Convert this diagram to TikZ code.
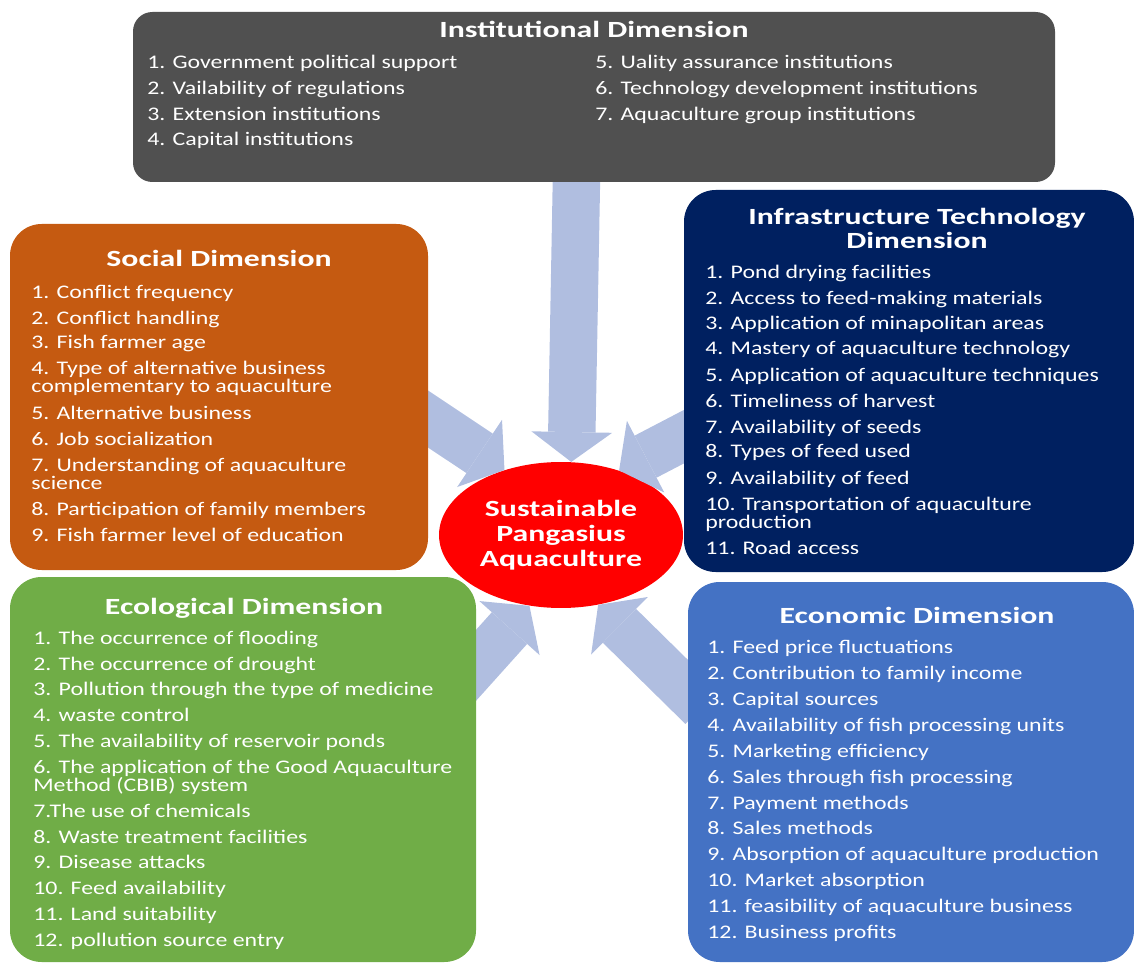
\documentclass[tikz,border=0pt]{standalone}
\usepackage{fontspec}
\setmainfont{Carlito}[FakeStretch=1.24, BoldFeatures={FakeStretch=1.37}]
\usepackage{tikz}
\usetikzlibrary{shapes.geometric,arrows.meta,fit,positioning}
\definecolor{instgray}{HTML}{505050}
\definecolor{socorange}{HTML}{C55A11}
\definecolor{infranavy}{HTML}{002060}
\definecolor{ecogreen}{HTML}{70AD47}
\definecolor{econblue}{HTML}{4472C4}
\definecolor{flowblue}{HTML}{B0BEE0}
\definecolor{hubred}{HTML}{FF0000}

\begin{document}
\begin{tikzpicture}[x=0.02cm, y=-0.02cm,
   box/.style={rounded corners=18pt, inner sep=0pt},
   flow/.style={draw=flowblue, line width=27pt, -{Triangle[width=46pt,length=17pt,line width=0pt]}},
   title/.style={text=white, anchor=base, inner sep=0pt, font=\fontsize{13.2pt}{16pt}\selectfont\bfseries},
   item/.style={text=white, anchor=base west, inner sep=0pt, font=\fontsize{10.95pt}{12pt}\selectfont}]
   \useasboundingbox (0,0) rectangle (1134,963);

   % centre
   \node[ellipse, fill=hubred, minimum width=4.88cm, minimum height=2.92cm, inner sep=0pt,
         align=center, text=white, font=\fontsize{13.2pt}{14.2pt}\selectfont\bfseries]
         (hub) at (561,535) {Sustainable\\Pangasius\\Aquaculture};

   % arrows
   \coordinate (fromInst) at (577,150);
   \coordinate (fromSoc) at (410,407);
   \coordinate (fromInfra) at (714,421);
   \coordinate (fromEco) at (453,691);
   \coordinate (fromEcon) at (702,707);
   \draw[flow] (fromInst) -- (hub.82);
   \draw[flow] (fromSoc) -- (hub.131);
   \draw[flow] (fromInfra) -- (hub.48);
   \draw[flow] (fromEco) -- (hub.246);
   \draw[flow] (fromEcon) -- (hub.298);

   % boxes
   \node[box, rounded corners=11pt, fill=instgray, fit={(133,12) (1055,182)}] (inst) {};
   \node[box, fill=socorange, fit={(10,224) (428,570)}] (soc) {};
   \node[box, fill=infranavy, fit={(684,190) (1134,572)}] (infra) {};
   \node[box, fill=ecogreen, fit={(10,577) (476,962)}] (eco) {};
   \node[box, fill=econblue, fit={(688,582) (1134,962)}] (econ) {};

   % institutional
   \node[title] (instT) at (594,38) {Institutional Dimension};
   \begin{scope}[every node/.style={item}]
    \node (inst1) at (147,69) {1. Government political support};
    \node (inst2) at (147,95) {2. Vailability of regulations};
    \node (inst3) at (147,121) {3. Extension institutions};
    \node (inst4) at (147,146) {4. Capital institutions};
    \node (inst5) at (595,69) {5. Uality assurance institutions};
    \node (inst6) at (595,95) {6. Technology development institutions};
    \node (inst7) at (595,121) {7. Aquaculture group institutions};
   \end{scope}

   % social
   \node[title] (socT) at (219,267) {Social Dimension};
   \begin{scope}[every node/.style={item}]
    \node (soc1) at (31,298) {1. Conflict frequency};
    \node (soc2) at (31,324) {2. Conflict handling};
    \node (soc3) at (31,349) {3. Fish farmer age};
    \node (soc4) at (31,375) {4. Type of alternative business};
    \node (soc4b) at (31,393) {complementary to aquaculture};
    \node (soc5) at (31,419) {5. Alternative business};
    \node (soc6) at (31,445) {6. Job socialization};
    \node (soc7) at (31,471) {7. Understanding of aquaculture};
    \node (soc7b) at (31,489) {science};
    \node (soc8) at (31,515) {8. Participation of family members};
    \node (soc9) at (31,541) {9. Fish farmer level of education};
   \end{scope}

   % infrastructure technology
   \node[title] (infraT) at (917,225) {Infrastructure Technology};
   \node[title] (infraT2) at (917,249) {Dimension};
   \begin{scope}[every node/.style={item}]
    \node (infra1) at (705,278) {1. Pond drying facilities};
    \node (infra2) at (705,304) {2. Access to feed-making materials};
    \node (infra3) at (705,330) {3. Application of minapolitan areas};
    \node (infra4) at (705,355) {4. Mastery of aquaculture technology};
    \node (infra5) at (705,381) {5. Application of aquaculture techniques};
    \node (infra6) at (705,407) {6. Timeliness of harvest};
    \node (infra7) at (705,433) {7. Availability of seeds};
    \node (infra8) at (705,458) {8. Types of feed used};
    \node (infra9) at (705,484) {9. Availability of feed};
    \node (infra10) at (705,510) {10. Transportation of aquaculture};
    \node (infra10b) at (705,528) {production};
    \node (infra11) at (705,554) {11. Road access};
   \end{scope}

   % ecological
   \node[title] (ecoT) at (244,614) {Ecological Dimension};
   \begin{scope}[every node/.style={item}]
    \node (eco1) at (33,644) {1. The occurrence of flooding};
    \node (eco2) at (33,670) {2. The occurrence of drought};
    \node (eco3) at (33,695) {3. Pollution through the type of medicine};
    \node (eco4) at (33,721) {4. waste control};
    \node (eco5) at (33,747) {5. The availability of reservoir ponds};
    \node (eco6) at (33,773) {6. The application of the Good Aquaculture};
    \node (eco6b) at (33,791) {Method (CBIB) system};
    \node (eco7) at (33,817) {7.The use of chemicals};
    \node (eco8) at (33,843) {8. Waste treatment facilities};
    \node (eco9) at (33,868) {9. Disease attacks};
    \node (eco10) at (33,894) {10. Feed availability};
    \node (eco11) at (33,920) {11. Land suitability};
    \node (eco12) at (33,946) {12. pollution source entry};
   \end{scope}

   % economic
   \node[title] (econT) at (917,623) {Economic Dimension};
   \begin{scope}[every node/.style={item}]
    \node (econ1) at (707,653) {1. Feed price fluctuations};
    \node (econ2) at (707,679) {2. Contribution to family income};
    \node (econ3) at (707,705) {3. Capital sources};
    \node (econ4) at (707,731) {4. Availability of fish processing units};
    \node (econ5) at (707,757) {5. Marketing efficiency};
    \node (econ6) at (707,783) {6. Sales through fish processing};
    \node (econ7) at (707,809) {7. Payment methods};
    \node (econ8) at (707,834) {8. Sales methods};
    \node (econ9) at (707,860) {9. Absorption of aquaculture production};
    \node (econ10) at (707,886) {10. Market absorption};
    \node (econ11) at (707,912) {11. feasibility of aquaculture business};
    \node (econ12) at (707,938) {12. Business profits};
   \end{scope}
\end{tikzpicture}
\end{document}
